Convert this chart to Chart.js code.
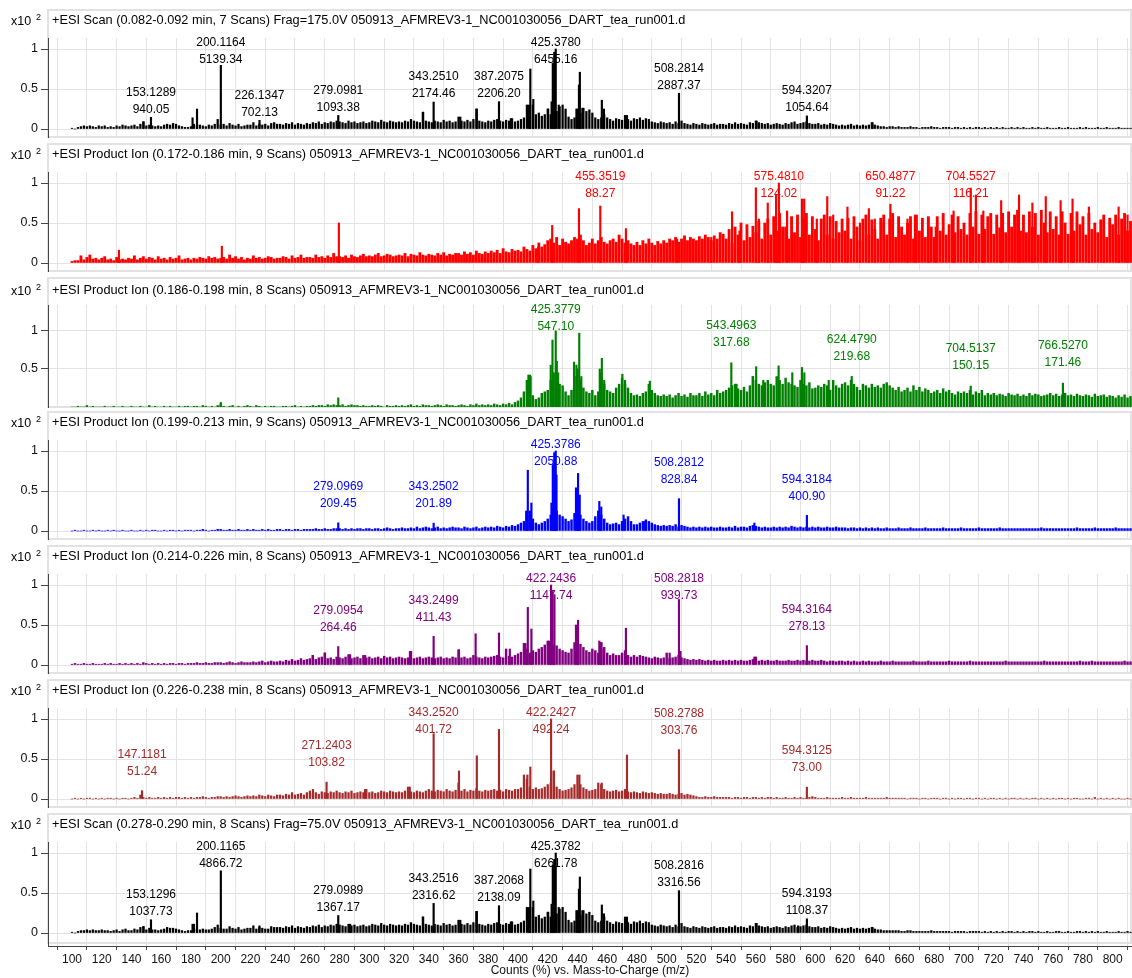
<!DOCTYPE html>
<html>
<head>
<meta charset="utf-8">
<script src="https://cdn.jsdelivr.net/npm/chart.js@4.4.1/dist/chart.umd.min.js"></script>
<style>
  body { margin: 0; background: #fff; width: 1132px; height: 978px; overflow: hidden; position: relative; }
  canvas { position: absolute; left: 0; }
</style>
</head>
<body>
<script>
// ---- data ----
const mzTicks = [100, 120, 140, 160, 180, 200, 220, 240, 260, 280, 300, 320, 340, 360, 380, 400, 420, 440, 460, 480, 500, 520, 540, 560, 580, 600, 620, 640, 660, 680, 700, 720, 740, 760, 780, 800];

// baseline noise: heights (% of base peak) read every 2 m/z from 100 to 812
const noiseStart = 100;
const noiseStep = 2;

const title1 = "+ESI Scan (0.082-0.092 min, 7 Scans) Frag=175.0V 050913_AFMREV3-1_NC001030056_DART_tea_run001.d";
const labelMz1 = [153.1289, 200.1164, 226.1347, 279.0981, 343.2510, 387.2075, 425.3780, 508.2814, 594.3207];
const labelCounts1 = [940.05, 5139.34, 702.13, 1093.38, 2174.46, 2206.20, 6455.16, 2887.37, 1054.64];
const peakMz1 = [148.1, 181.1, 184.1, 336.2, 361.2, 372.3, 395.2, 407.3, 408.3, 410.3, 420.3, 422.6, 423.4, 424.4, 427.4, 439.3, 441.0, 441.6, 443.3, 456.4, 457.8, 473.3, 560.5, 638.5];
const peakInt1 = [9, 14, 25, 21, 15, 25, 13, 30, 75, 37, 25, 34, 82, 96, 30, 25, 55, 71, 26, 36, 25, 17, 10, 8];
const noise1 = [
  1,0,2,3,4,3,4,3,2,4, 3,4,2,3,2,4,3,5,4,3, 4,5,3,6,9,4,5,4,3,4, 3,5,6,5,7,6,4,3,2,2,
  3,6,4,5,4,3,5,4,6,12, 5,6,4,7,5,4,6,3,4,5, 5,8,4,6,5,6,4,7,8,6, 6,5,7,6,8,5,7,6,5,7,
  6,8,7,9,6,8,7,9,8,10, 9,8,7,10,8,9,7,8,9,7, 8,10,9,8,11,9,8,10,9,8, 9,8,10,9,12,10,9,8,21,10,
  9,8,10,9,8,11,9,10,8,9, 15,10,9,11,9,12,25,10,9,8, 10,9,11,12,10,9,11,10,13,9, 10,12,14,30,10,30,18,20,16,18,
  25,18,20,22,28,30,25,15,12,14, 25,20,26,22,24,20,14,12,14,18, 14,12,10,13,12,11,17,12,10,13, 12,14,11,13,12,9,8,7,9,8,
  7,8,6,9,7,10,7,6,5,7, 6,5,7,6,5,6,7,5,6,6, 5,7,6,8,6,7,6,5,8,7, 10,8,7,6,7,5,6,7,6,5,
  7,6,8,9,6,7,8,9,7,6, 6,7,5,6,5,7,6,5,4,5, 4,5,6,4,5,4,5,4,5,8, 5,4,3,3,2,3,3,2,3,2,
  2,2,3,2,2,1,2,2,2,3, 2,2,1,2,2,2,1,2,2,1, 2,1,2,1,2,2,1,2,1,2, 1,2,1,2,1,1,2,1,2,1,
  2,1,1,2,1,2,1,1,2,1, 1,1,2,1,1,2,1,1,1,2, 1,2,1,1,1,2,1,1,2,1, 1,1,2,1,1,1,1
];

const title2 = "+ESI Product Ion (0.172-0.186 min, 9 Scans) 050913_AFMREV3-1_NC001030056_DART_tea_run001.d";
const labelMz2 = [455.3519, 575.4810, 650.4877, 704.5527];
const labelCounts2 = [88.27, 124.02, 91.22, 116.21];
const peakMz2 = [131.6, 200.8, 279.5, 413.5, 423, 441, 472.6, 507, 530, 544, 549, 560, 562, 568, 573.6, 581, 591, 592.5, 601, 608, 612, 621.6, 630, 636, 640, 646, 662, 667, 676, 681, 693, 708, 713, 725, 737, 746, 755, 765, 773, 784, 794, 804, 810];
const peakInt2 = [16, 21, 50, 20, 47, 68, 43, 30, 32, 64, 40, 94, 55, 75, 85, 65, 80, 80, 55, 83, 60, 70, 50, 68, 55, 50, 55, 60, 55, 45, 65, 85, 65, 78, 85, 75, 83, 78, 80, 70, 55, 70, 60];
const noise2 = [
  2,3,3,9,4,7,10,5,6,4, 6,8,4,5,3,7,4,5,4,6, 5,9,4,6,8,5,7,6,4,8, 5,6,4,7,5,6,9,4,5,6,
  4,6,5,7,6,5,8,6,7,5, 6,7,5,10,6,8,5,7,4,6, 5,9,6,7,5,6,8,7,5,6, 6,8,7,5,9,6,7,10,6,7,
  7,6,10,7,8,6,9,7,12,8, 8,7,9,6,10,8,7,9,11,8, 9,8,10,12,8,9,11,10,8,9, 10,9,12,8,11,10,9,13,10,9,
  11,10,9,12,10,13,9,11,10,12, 12,10,14,11,13,10,15,12,11,14, 12,15,13,16,12,18,14,13,17,15, 16,14,20,17,15,22,18,25,20,23,
  28,30,25,32,22,30,26,24,28,32, 30,35,28,22,25,30,24,28,32,26, 24,28,30,26,35,30,25,28,24,22, 26,22,28,24,30,25,22,27,24,28,
  25,30,28,32,26,30,34,28,32,30, 28,33,30,35,32,28,34,30,38,36, 30,42,25,45,35,50,28,48,32,46, 38,52,30,50,55,35,58,40,62,45,
  45,30,58,38,60,32,56,62,35,58, 42,28,55,60,35,58,30,52,38,55, 40,56,30,58,45,28,55,60,35,54, 42,30,56,60,35,55,62,32,58,45,
  35,50,58,30,60,40,56,32,58,45, 32,58,40,62,35,48,60,38,58,42, 50,35,62,45,64,36,60,42,58,62, 36,60,44,62,38,64,45,60,66,40,
  60,38,64,45,62,35,66,50,38,64, 42,58,35,64,50,36,62,40,64,48, 58,35,62,42,50,38,54,60,32,56, 48,60,35,55,62,40,52
];

const title3 = "+ESI Product Ion (0.186-0.198 min, 8 Scans) 050913_AFMREV3-1_NC001030056_DART_tea_run001.d";
const labelMz3 = [425.3779, 543.4963, 624.4790, 704.5137, 766.5270];
const labelCounts3 = [547.10, 317.68, 219.68, 150.15, 171.46];
const peakMz3 = [200.1, 279.1, 407, 408.5, 422, 423.2, 427, 437.7, 439.3, 441.2, 442.6, 455, 456.4, 458, 470.2, 472, 488.7, 547, 558, 560.2, 565, 575.3, 584.5, 591, 592.6, 609];
const peakInt3 = [6, 12, 42, 40, 55, 88, 45, 59, 55, 97, 40, 50, 64, 35, 43, 35, 34, 30, 40, 53, 35, 54, 45, 52, 45, 35];
const noise3 = [
  0,0,1,0,0,2,0,1,0,0, 0,1,0,0,1,0,0,1,0,0, 1,0,0,1,0,0,2,0,1,0, 0,1,0,1,0,0,1,0,1,1,
  0,1,1,0,2,1,0,1,0,2, 3,1,0,1,2,0,1,0,1,2, 1,0,2,1,0,1,0,1,1,0, 0,1,1,0,1,2,0,1,0,1,
  1,2,1,2,2,1,3,2,3,2, 2,3,1,2,3,2,2,1,2,1, 1,2,1,2,1,0,2,1,1,2, 1,2,1,2,3,1,2,1,3,2,
  2,1,2,3,2,1,3,2,2,1, 2,3,2,1,3,2,4,2,3,2, 3,2,4,3,2,4,3,5,3,6, 8,12,20,35,42,15,10,12,18,20,
  22,35,45,60,30,28,20,15,22,40, 50,35,25,20,18,22,15,20,45,30, 22,20,18,25,30,38,30,25,18,15, 16,14,18,20,30,22,18,15,14,16,
  14,16,12,15,18,14,16,13,18,15, 15,18,14,20,16,18,15,22,18,20, 22,25,28,30,24,22,26,20,28,40, 35,30,28,32,35,30,28,40,35,30,
  38,32,30,28,26,35,30,28,32,24, 25,28,26,30,28,22,35,28,25,30, 32,28,35,30,26,22,30,28,25,30, 26,28,25,30,32,28,25,22,26,20,
  22,25,20,28,22,26,20,24,22,18, 20,22,18,24,20,22,18,16,20,18, 20,18,22,16,20,18,22,15,18,16, 18,15,17,16,14,18,16,15,17,14,
  16,14,18,15,17,16,14,15,16,18, 15,17,14,16,18,15,16,14,17,15, 14,16,15,13,17,14,15,16,13,15, 14,12,15,13,16,12,14
];

const title4 = "+ESI Product Ion (0.199-0.213 min, 9 Scans) 050913_AFMREV3-1_NC001030056_DART_tea_run001.d";
const labelMz4 = [279.0969, 343.2502, 425.3786, 508.2812, 594.3184];
const labelCounts4 = [209.45, 201.89, 2050.88, 828.84, 400.90];
const peakMz4 = [405.5, 406.6, 409, 422.5, 423.4, 424.4, 425.9, 439, 440.4, 441.5, 454.7, 456, 471, 485.5, 559];
const peakInt4 = [25, 76, 35, 35, 83, 98, 70, 54, 72, 45, 37, 30, 20, 12, 10];
const noise4 = [
  0,1,0,0,1,0,0,1,0,1, 0,0,1,0,1,0,0,1,0,0, 1,0,0,1,0,1,0,1,1,0, 0,1,0,1,1,0,1,0,1,1,
  1,0,1,1,2,1,0,1,1,2, 2,1,1,2,1,1,2,1,1,2, 1,2,1,1,2,1,2,1,1,2, 2,1,2,2,1,2,2,1,2,2,
  2,2,3,2,2,3,2,2,3,3, 3,2,3,2,3,2,3,3,2,3, 3,2,3,3,2,3,4,3,2,3, 3,4,3,3,4,3,5,3,4,5,
  4,3,4,5,3,4,3,4,5,4, 4,3,5,4,3,4,5,3,4,5, 4,5,4,6,5,4,6,5,7,6, 8,10,12,20,25,15,10,8,10,12,
  15,20,30,25,20,18,15,12,14,22, 30,20,15,12,10,12,18,25,20,15, 10,8,9,10,8,12,15,18,12,8, 8,10,12,14,12,10,8,7,6,7,
  6,7,6,8,5,7,6,5,4,5, 4,5,4,5,4,5,4,4,5,4, 4,5,4,6,4,5,5,4,6,7, 6,5,4,5,4,4,5,4,5,4,
  5,4,6,5,4,5,4,5,4,5, 4,5,4,4,5,4,4,5,4,4, 4,3,4,4,3,4,3,4,3,4, 3,4,3,3,4,3,3,3,4,3,
  3,3,4,3,3,3,3,4,3,3, 3,3,3,4,3,3,3,3,3,4, 3,3,3,3,3,4,3,3,3,3, 3,3,4,3,3,3,3,3,3,3,
  3,3,3,3,3,3,4,3,3,3, 3,3,3,3,3,3,3,3,4,3, 3,3,3,3,4,3,3,3,3,3, 3,4,3,3,3,3,3
];

const title5 = "+ESI Product Ion (0.214-0.226 min, 8 Scans) 050913_AFMREV3-1_NC001030056_DART_tea_run001.d";
const labelMz5 = [279.0954, 343.2499, 422.2436, 508.2818, 594.3164];
const labelCounts5 = [264.46, 411.43, 1147.74, 939.73, 278.13];
const peakMz5 = [262, 270.2, 287.1, 297.2, 327.3, 360.3, 371.5, 387.2, 394.5, 405, 406.6, 409, 421, 423.2, 424.5, 439, 440.4, 454.7, 456, 457.6, 472.6, 502, 509.3, 559];
const peakInt5 = [12, 15, 13, 12, 17, 19, 39, 40, 20, 27, 72, 45, 30, 92, 88, 50, 56, 30, 28, 20, 46, 15, 17, 10];
const noise5 = [
  1,2,1,1,2,1,1,2,1,1, 1,2,1,2,1,1,2,1,2,1, 2,1,2,1,3,2,1,2,1,2, 1,2,1,2,2,1,2,2,1,2,
  2,2,3,2,2,3,2,2,3,3, 3,2,3,4,3,2,3,4,3,3, 3,4,3,4,5,3,4,5,4,4, 5,4,6,5,7,5,6,8,6,7,
  8,12,7,9,10,15,8,9,7,10, 9,8,10,13,8,9,10,8,12,9, 10,8,9,10,8,11,9,10,8,9, 10,9,8,9,17,8,9,10,8,9,
  10,9,8,9,10,8,9,8,10,9, 19,9,10,8,9,12,10,9,8,10, 9,10,11,12,10,9,20,11,10,12, 14,16,27,20,15,18,16,20,22,25,
  30,28,25,24,20,18,16,15,20,28, 30,26,22,18,16,20,18,15,28,22, 15,12,14,12,12,15,18,12,10,12, 10,12,11,10,9,8,10,9,8,9,
  15,8,9,10,12,9,8,7,6,7, 6,7,6,5,6,5,6,5,5,6, 5,6,5,6,5,6,5,5,6,7, 10,5,6,5,6,5,5,6,5,5,
  5,6,5,5,6,5,6,5,5,6, 5,5,6,5,4,5,5,4,5,5, 4,5,4,5,4,4,5,4,5,4, 4,4,5,4,4,4,5,4,4,4,
  4,4,4,5,4,4,4,4,5,4, 4,4,4,4,4,5,4,4,4,4, 4,4,5,4,4,4,4,4,4,4, 4,4,4,4,5,4,4,4,4,4,
  4,4,4,4,4,4,4,5,4,4, 4,4,4,4,4,4,4,4,4,5, 4,4,4,5,4,4,4,4,4,4, 4,4,4,4,5,4,4
];

const title6 = "+ESI Product Ion (0.226-0.238 min, 8 Scans) 050913_AFMREV3-1_NC001030056_DART_tea_run001.d";
const labelMz6 = [147.1181, 271.2403, 343.2520, 422.2427, 508.2788, 594.3125];
const labelCounts6 = [51.24, 103.82, 401.72, 492.24, 303.76, 73.00];
const peakMz6 = [262.1, 297.1, 327.2, 360.3, 372.3, 387.2, 406.3, 408.3, 424.2, 441.3, 456.3, 473.3];
const peakInt6 = [12, 12, 15, 35, 54, 87, 30, 40, 35, 30, 20, 55];
const noise6 = [
  0,1,0,1,0,1,1,0,1,0, 1,0,1,1,0,1,0,1,1,0, 1,2,1,5,2,1,2,1,1,2, 1,2,1,2,1,2,2,1,2,1,
  2,1,2,2,3,2,1,2,2,3, 3,2,3,2,3,4,3,2,3,4, 3,4,3,5,4,3,5,4,3,5, 5,4,6,5,8,5,6,7,5,8,
  10,7,8,6,9,8,7,9,8,10, 8,7,9,8,10,7,8,9,8,12, 8,9,7,8,10,9,8,10,9,8, 9,8,10,15,9,8,10,9,8,10,
  12,10,9,11,10,9,12,10,9,11, 20,10,12,9,11,10,13,10,9,11, 10,11,12,10,11,9,12,11,10,12, 12,14,30,25,15,12,14,12,13,15,
  18,20,35,15,12,10,11,12,14,18, 30,18,14,12,10,11,12,20,18,12, 10,9,10,11,9,10,12,9,8,9, 8,7,9,8,7,8,7,6,7,6,
  6,7,6,5,6,7,5,6,5,4, 3,2,2,3,2,2,3,2,2,2, 2,2,1,2,2,1,2,2,1,2, 2,1,2,1,2,2,1,2,1,1,
  2,1,1,2,1,2,1,1,2,3, 2,1,1,1,2,1,1,1,1,2, 1,1,2,1,1,1,1,2,1,1, 1,1,1,1,2,1,1,1,1,1,
  1,0,1,1,1,0,1,1,0,1, 1,1,0,1,1,0,1,0,1,1, 0,1,1,0,1,1,0,1,0,1, 1,0,1,0,1,0,1,1,0,1,
  0,1,0,1,1,0,1,0,1,0, 1,0,1,1,0,1,0,1,1,0, 0,1,1,0,2,0,1,0,1,0, 1,0,1,0,0,1,0
];

const title7 = "+ESI Scan (0.278-0.290 min, 8 Scans) Frag=75.0V 050913_AFMREV3-1_NC001030056_DART_tea_run001.d";
const labelMz7 = [153.1296, 200.1165, 279.0989, 343.2516, 387.2068, 425.3782, 508.2816, 594.3193];
const labelCounts7 = [1037.73, 4866.72, 1367.17, 2316.62, 2138.09, 6261.78, 3316.56, 1108.37];
const peakMz7 = [148.1, 181.1, 184.1, 226.1, 287.1, 336.2, 361.2, 372.3, 395.2, 407.3, 408.3, 410.3, 420.3, 422.6, 423.4, 424.4, 427.4, 439.3, 441.0, 441.6, 443.3, 456.4, 457.8, 473.3, 560.5, 588.4, 638.5];
const peakInt7 = [8, 11, 25, 9, 11, 20, 16, 27, 14, 32, 80, 40, 26, 36, 85, 92, 32, 28, 55, 70, 28, 35, 24, 20, 12, 9, 7];
const noise7 = [
  1,0,2,3,3,4,3,4,3,3, 4,3,3,2,3,4,2,4,5,3, 3,5,4,7,8,4,6,4,4,3, 4,5,7,6,6,5,4,3,2,3,
  3,11,5,4,5,4,4,5,7,10, 6,5,5,8,6,5,7,4,5,6, 6,9,5,7,6,5,5,8,7,7, 7,6,8,7,9,6,8,7,6,8,
  7,9,8,10,7,9,8,10,9,11, 10,9,8,11,9,10,8,9,10,8, 9,11,10,9,12,10,9,11,10,9, 10,9,11,10,13,11,10,9,20,11,
  10,9,11,10,9,12,10,11,9,10, 16,11,10,12,10,13,27,11,10,9, 11,10,12,13,11,10,12,11,14,10, 11,13,15,32,11,32,20,22,18,20,
  26,20,22,24,30,32,26,16,13,15, 28,22,28,24,26,22,15,13,15,20, 15,13,11,14,13,12,20,13,11,14, 13,15,12,14,13,10,9,8,10,9,
  8,9,7,10,8,12,8,7,6,8, 7,6,8,7,6,7,8,6,7,7, 6,8,7,9,7,8,7,6,9,8, 12,9,8,7,8,6,7,8,7,6,
  8,7,9,10,7,8,9,10,8,7, 7,8,6,7,6,8,7,6,5,6, 5,6,7,5,6,5,6,5,6,7, 5,4,4,3,3,3,3,3,3,2,
  2,3,3,2,2,2,2,2,2,3, 2,2,2,2,2,2,1,2,2,2, 2,1,2,2,2,2,1,2,1,2, 1,2,1,2,1,2,2,1,2,1,
  2,1,2,2,1,2,1,1,2,1, 1,2,2,1,1,2,1,1,2,2, 1,2,1,2,1,2,1,1,2,1, 1,1,2,1,1,2,1
];

// ---- layout ----
const FONT = "'Liberation Sans', Arial, sans-serif";
Chart.defaults.font.family = FONT;

const panels = [
  { title: title1, color: "#000000", labelMz: labelMz1, labelCounts: labelCounts1, peakMz: peakMz1, peakInt: peakInt1, noise: noise1, gap: 8, noiseW: 1.6 },
  { title: title2, color: "#ff0000", labelMz: labelMz2, labelCounts: labelCounts2, peakMz: peakMz2, peakInt: peakInt2, noise: noise2, gap: 12, noiseW: 2.2 },
  { title: title3, color: "#008000", labelMz: labelMz3, labelCounts: labelCounts3, peakMz: peakMz3, peakInt: peakInt3, noise: noise3, gap: 20, noiseW: 1.8 },
  { title: title4, color: "#0000ff", labelMz: labelMz4, labelCounts: labelCounts4, peakMz: peakMz4, peakInt: peakInt4, noise: noise4, gap: 19, noiseW: 1.8 },
  { title: title5, color: "#800080", labelMz: labelMz5, labelCounts: labelCounts5, peakMz: peakMz5, peakInt: peakInt5, noise: noise5, gap: 19, noiseW: 1.8 },
  { title: title6, color: "#a52a2a", labelMz: labelMz6, labelCounts: labelCounts6, peakMz: peakMz6, peakInt: peakInt6, noise: noise6, gap: 19, noiseW: 1.6 },
  { title: title7, color: "#000000", labelMz: labelMz7, labelCounts: labelCounts7, peakMz: peakMz7, peakInt: peakInt7, noise: noise7, gap: 8, noiseW: 1.6 }
];

const W = 1132;
const AXIS_X = 48;

panels.forEach((p, k) => {
  const last = k === panels.length - 1;
  const tall = k === 2; // green panel is scaled with the zero on the bottom edge
  const h = last ? 166 : 134;
  const canvas = document.createElement("canvas");
  canvas.width = W;
  canvas.height = h;
  canvas.style.top = (8 + 134 * k) + "px";
  document.body.appendChild(canvas);

  const maxCounts = Math.max(...p.labelCounts);
  const noiseData = p.noise.map((v, i) => ({ x: noiseStart + i * noiseStep, y: v }));
  const peakData = p.peakMz.map((m, i) => ({ x: m, y: p.peakInt[i] }))
    .concat(p.labelMz.map((m, i) => ({ x: m, y: p.labelCounts[i] / maxCounts * 100 })));

  const boxBottom = (tall || last) ? 131 : 129;

  const panelDeco = {
    id: "panelDeco",
    beforeDraw(chart) {
      const ctx = chart.ctx;
      ctx.save();
      ctx.fillStyle = "#ffffff";
      ctx.fillRect(AXIS_X, 2, W - AXIS_X - 1, boxBottom - 2);
      ctx.strokeStyle = "#e2e2e2";
      ctx.lineWidth = 2;
      ctx.strokeRect(AXIS_X, 2, W - AXIS_X - 1, boxBottom - 2);
      ctx.restore();
    },
    afterDraw(chart) {
      const ctx = chart.ctx;
      const xs = chart.scales.x, ys = chart.scales.y;
      ctx.save();
      ctx.textBaseline = "middle";
      // title
      ctx.fillStyle = "#000";
      ctx.font = "12.75px " + FONT;
      ctx.textAlign = "left";
      ctx.fillText(p.title, 52, tall ? 14 : 12);
      // x10^2
      ctx.font = "12.5px " + FONT;
      ctx.fillText("x10", 11, tall ? 16 : 14);
      ctx.font = "9px " + FONT;
      ctx.fillText("2", 36, tall ? 12 : 10);
      // peak labels
      ctx.font = "12px " + FONT;
      ctx.textAlign = "center";
      ctx.fillStyle = p.color;
      const top = chart.chartArea.top;
      p.labelMz.forEach((m, i) => {
        const x = xs.getPixelForValue(m);
        const yTop = ys.getPixelForValue(p.labelCounts[i] / maxCounts * 100);
        const y2 = Math.max(yTop - p.gap, top + 22);
        ctx.fillText(m.toFixed(4), x, y2 - 17);
        ctx.fillText(p.labelCounts[i].toFixed(2), x, y2);
      });
      ctx.restore();
    }
  };

  new Chart(canvas, {
    type: "bar",
    data: {
      datasets: [
        { data: noiseData, backgroundColor: p.color, barThickness: p.noiseW, grouped: false },
        { data: peakData, backgroundColor: p.color, barThickness: 1.5, grouped: false }
      ]
    },
    options: {
      responsive: false,
      animation: false,
      events: [],
      layout: { padding: { top: tall ? 29 : 30, bottom: last ? 0 : (tall ? 3 : 5), left: 0, right: 0 } },
      plugins: { legend: { display: false }, tooltip: { enabled: false } },
      scales: {
        x: {
          type: "linear",
          min: 83.86,
          max: 813,
          offset: false,
          afterBuildTicks: (s) => { s.ticks = mzTicks.map((v) => ({ value: v })); },
          afterFit: (s) => { s.height = last ? 32 : 0; s.paddingLeft = 0; s.paddingRight = 0; },
          grid: { color: "#e3e3e3", drawTicks: last, tickLength: 4, tickColor: "#444" },
          border: { display: last, color: "#444" },
          ticks: { display: last, padding: 2, autoSkip: false, maxRotation: 0, color: "#111", font: { size: 12 } },
          title: { display: last, text: "Counts (%) vs. Mass-to-Charge (m/z)", padding: { top: 1, bottom: 0 }, color: "#111", font: { size: 12 } }
        },
        y: {
          min: tall ? 0 : (last ? -16.25 : -10),
          max: tall ? 134 : 113.75,
          afterBuildTicks: (s) => { s.ticks = (tall ? [50, 100] : [0, 50, 100]).map((v) => ({ value: v })); },
          afterFit: (s) => { s.width = AXIS_X; s.paddingTop = 0; s.paddingBottom = 0; },
          grid: { color: "#e3e3e3", tickLength: 7, tickColor: "#444" },
          border: { color: "#444" },
          ticks: { callback: (v) => String(v / 100), padding: 3, color: "#111", font: { size: 12.5 } }
        }
      }
    },
    plugins: [panelDeco]
  });
});
</script>
</body>
</html>
